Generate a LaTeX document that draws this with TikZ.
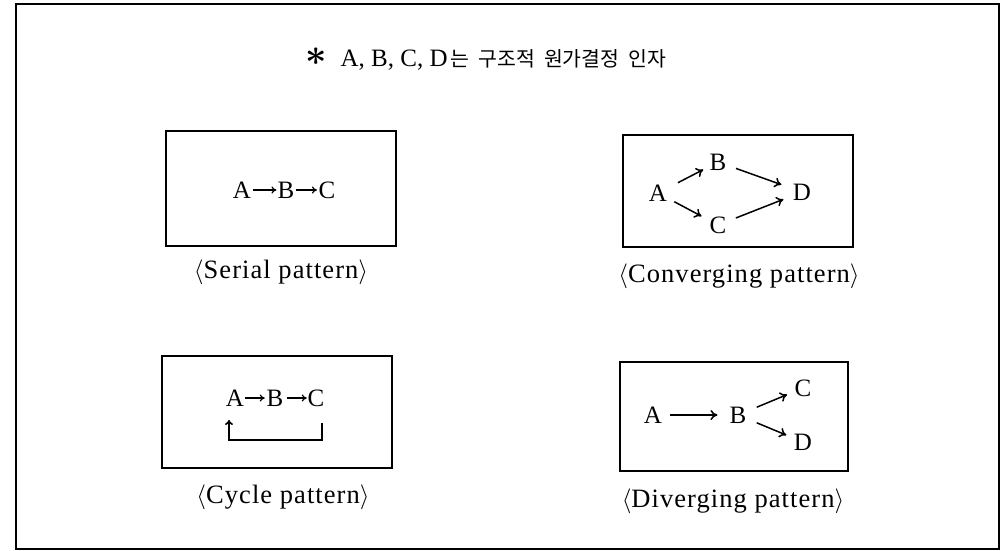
\documentclass[tikz,border=0pt]{standalone}
\usepackage{fontspec}
\usepackage{amsmath}
\setmainfont{Liberation Serif}
\newfontfamily\krfont{Noto Sans CJK KR}
\usetikzlibrary{arrows.meta}
\begin{document}
\begin{tikzpicture}[x=1pt,y=-1pt,
  frame/.style={draw,line width=1.4pt},
  pbox/.style={draw,line width=1.6pt,inner sep=0pt},
  letnode/.style={inner sep=0pt,font=\fontsize{25}{25}\selectfont},
  plabel/.style={inner sep=0pt,anchor=base,font=\fontsize{26.5}{26.5}\selectfont\addfontfeature{LetterSpace=4}},
  arr/.style={line width=1.5pt,-{To[length=7pt,width=10pt]}},
  sarr/.style={line width=1.2pt,-{To[length=5pt,width=7pt]}},
]
\useasboundingbox (0,0) rectangle (1000,550);
\draw[frame] (16,4) rectangle (999,549);

% title
\node[anchor=base west,inner sep=0pt,font=\fontsize{25}{25}\selectfont] (title) at (305,66)
  {\raisebox{1pt}{\scalebox{1.5}{$\boldsymbol{\ast}$}}\hspace{14pt}A, B, C, D\hspace{3pt}{\krfont\fontsize{20.5}{20.5}\selectfont 는\hspace{9pt}구조적\hspace{9pt}원가결정\hspace{9pt}인자}};

% boxes
\node[pbox,minimum width=230pt,minimum height=115pt] (serialbox) at (281,188.5) {};
\node[pbox,minimum width=230pt,minimum height=112pt] (convbox) at (738,191) {};
\node[pbox,minimum width=230pt,minimum height=112pt] (cyclebox) at (277,412) {};
\node[pbox,minimum width=228pt,minimum height=109pt] (divbox) at (734,416.5) {};

% serial
\node[letnode] (sA) at (242,190) {A};
\node[letnode] (sB) at (286,190) {B};
\node[letnode] (sC) at (327,190) {C};
\draw[sarr,shorten <=2pt,shorten >=1pt] (sA) -- (sB);
\draw[sarr,shorten <=1pt,shorten >=1.5pt] (sB) -- (sC);
\node[plabel] (serlab) at (281,278) {$\langle$Serial pattern$\rangle$};

% converging
\node[letnode] (cA) at (658,193) {A};
\node[letnode] (cB) at (718,162) {B};
\node[letnode] (cC) at (718,225) {C};
\node[letnode] (cD) at (802,192) {D};
\draw[arr,shorten <=12pt,shorten >=7pt] (cA) -- (cB);
\draw[arr,shorten <=8pt,shorten >=9pt] (cA) -- (cC);
\draw[arr,shorten <=10pt,shorten >=12pt] (cB) -- (cD);
\draw[arr,shorten <=10pt,shorten >=10pt] (cC) -- (cD);
\node[plabel] (convlab) at (739,282) {$\langle$Converging pattern$\rangle$};

% cycle
\node[letnode] (yA) at (235,398) {A};
\node[letnode] (yB) at (275,398) {B};
\node[letnode] (yC) at (316,398) {C};
\draw[sarr,shorten <=1pt,shorten >=1.7pt] (yA) -- (yB);
\draw[sarr,shorten <=3.5pt,shorten >=0.7pt] (yB) -- (yC);
\draw[line width=1.7pt,-{To[length=5pt,width=8pt]}] ([xshift=6pt,yshift=-16.5pt]yC.south) -- ++(0,17) -| ([xshift=-6pt,yshift=-13.5pt]yA.south);
\node[plabel] (cyclab) at (283,503) {$\langle$Cycle pattern$\rangle$};

% diverging
\node[letnode] (dA) at (653,415) {A};
\node[letnode] (dB) at (738,415) {B};
\node[letnode] (dC) at (803,388) {C};
\node[letnode] (dD) at (803,442) {D};
\draw[arr,shorten <=8pt,shorten >=12pt] (dA) -- (dB);
\draw[arr,shorten <=11pt,shorten >=8pt] (dB) -- (dC);
\draw[arr,shorten <=11pt,shorten >=8pt] (dB) -- (dD);
\node[plabel] (divlab) at (733,507) {$\langle$Diverging pattern$\rangle$};
\end{tikzpicture}
\end{document}
